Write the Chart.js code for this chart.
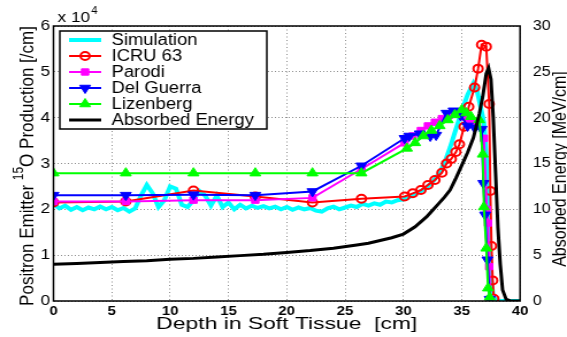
<!DOCTYPE html>
<html lang="en">
<head>
<meta charset="UTF-8">
<title>Positron emitter production vs depth</title>
<script src="https://cdn.jsdelivr.net/npm/chart.js"></script>
<style>
  html, body { margin: 0; padding: 0; background: #fff; overflow: hidden; }
  #chart { display: block; }
</style>
</head>
<body>
<!-- drawn narrow, shown stretched like the original figure -->
<canvas id="chart" width="493" height="337" style="width:567px;height:337px"></canvas>
<script>
// production values are in units of 10^4 /cm, energy in MeV/cm
const simDepth = [0,0.5,1,1.5,2,2.5,3,3.5,4,4.5,5,5.5,6,6.5,7,7.5,8,8.5,9,9.5,10,10.5,11,11.5,12,12.5,13,13.5,14,14.5,15,15.5,16,16.5,17,17.5,18,18.5,19,19.5,20,20.5,21,21.5,22,22.5,23,23.5,24,24.5,25,25.5,26,26.5,27,27.5,28,28.5,29,29.5,30,30.5,31,31.5,32,32.5,33,33.5,34,34.5,35,35.5,36,36.3,36.6,36.9,37.1,37.3,37.5,37.7,37.9,38.2,39,40];
const simProd = [2.12,2.02,2.08,1.99,2.05,1.98,2.04,2.0,2.06,2.0,2.05,1.98,2.03,1.95,2.02,2.3,2.53,2.35,2.05,2.2,2.5,2.45,2.1,2.05,2.2,2.4,2.3,2.08,2.3,2.05,2.15,2.0,2.1,2.02,2.08,2.03,2.07,2.02,2.06,2.0,2.05,1.99,2.04,2.0,2.03,1.97,1.95,2.02,2.06,2.0,2.04,2.08,2.05,2.12,2.08,2.13,2.1,2.17,2.15,2.2,2.22,2.27,2.33,2.4,2.48,2.6,2.76,3.0,3.35,3.75,4.15,4.5,4.75,4.6,4.25,3.9,3.2,1.8,0.5,0.1,0.03,0,0,0];

const icruDepth = [0,6.2,12,17.3,22.2,26.4,30.1,30.8,31.5,32.1,32.7,33.3,33.7,34.1,34.5,34.8,35.2,35.6,36.1,36.4,36.7,37.1,37.35,37.45,37.55,37.65,37.75];
const icruProd = [2.15,2.17,2.41,2.28,2.15,2.23,2.28,2.35,2.42,2.53,2.64,2.8,3.0,3.1,3.25,3.42,3.8,4.24,4.66,5.07,5.59,5.55,4.3,2.4,1.2,0.45,0.05];

const parodiDepth = [0,6.2,12,17.3,22.2,26.4,30.1,30.8,31.5,32.1,32.7,33.3,33.9,34.5,35.1,35.7,36.3,36.9,37.15,37.25,37.35,37.45];
const parodiProd = [2.17,2.17,2.2,2.2,2.25,2.88,3.45,3.6,3.72,3.82,3.9,3.98,4.05,4.08,4.02,3.95,3.88,3.55,2.0,1.7,0.75,0.05];

const guerraDepth = [0,6.2,12,17.3,22.2,26.4,30.1,30.5,31.4,32.3,32.8,33.7,34.3,34.9,35.5,36.1,36.7,36.85,37.0,37.2,37.4];
const guerraProd = [2.31,2.31,2.32,2.31,2.39,2.95,3.55,3.6,3.65,3.6,3.62,4.1,4.15,4.05,3.82,3.78,3.75,2.57,1.88,0.9,0.04];

const lizDepth = [0,6.2,12,17.3,22.2,26.4,30.3,31.0,31.7,32.4,33.1,33.8,34.4,35.0,35.4,35.8,36.5,36.8,36.9,37.1,37.25,37.4];
const lizProd = [2.79,2.79,2.79,2.79,2.79,2.79,3.33,3.45,3.6,3.72,3.82,3.95,4.06,4.17,4.1,4.02,3.95,3.2,2.05,1.15,0.28,0.08];

const energyDepth = [0,2,4,6,8,10,12,14,16,18,20,22,24,26,27,28,29,30,31,32,32.5,33,33.5,34,34.5,35,35.5,36,36.5,36.8,37.1,37.3,37.5,37.7,37.9,38.1,38.3,38.5,38.8,39.2,40];
const energy = [4.0,4.1,4.2,4.3,4.4,4.55,4.65,4.8,4.95,5.1,5.3,5.5,5.75,6.1,6.3,6.6,6.9,7.3,8.1,9.2,9.9,10.6,11.3,12.1,13.4,14.8,16.2,17.8,20.4,22.3,24.8,25.4,24.2,20,14,8,4,1.2,0.2,0,0];

const FONT = '"Liberation Sans", Arial, Helvetica, sans-serif';
const toPoints = (xs, ys) => xs.map((x, i) => ({ x: x, y: ys[i] }));

function drawMarker(ctx, ds, x, y) {
    if (!ds.pointRadius) return;
    ctx.fillStyle = ds.pointBackgroundColor;
    ctx.strokeStyle = ds.pointBorderColor;
    ctx.lineWidth = ds.pointBorderWidth;
    Chart.helpers.drawPoint(ctx, {
        pointStyle: ds.pointStyle, radius: ds.pointRadius,
        rotation: ds.pointRotation || 0, borderWidth: ds.pointBorderWidth
    }, x, y);
}

const decorations = {
    id: 'decorations',
    afterDraw(chart) {
        const { ctx, chartArea: a } = chart;
        ctx.save();

        // axes box
        ctx.strokeStyle = '#000';
        ctx.lineWidth = 1.5;
        ctx.setLineDash([]);
        ctx.strokeRect(a.left, a.top, a.right - a.left, a.bottom - a.top);

        // x 10^4 multiplier
        ctx.fillStyle = '#000';
        ctx.textBaseline = 'alphabetic';
        ctx.textAlign = 'left';
        ctx.font = '15px ' + FONT;
        ctx.fillText('x 10', 50, 22);
        const w10 = ctx.measureText('x 10').width;
        ctx.font = '10px ' + FONT;
        ctx.fillText('4', 50 + w10 + 1, 14);

        // legend
        const lx = 52, ly = 31, lw = 180, lh = 98;
        ctx.fillStyle = '#fff';
        ctx.fillRect(lx, ly, lw, lh);
        ctx.strokeStyle = '#000';
        ctx.lineWidth = 1.5;
        ctx.strokeRect(lx, ly, lw, lh);
        chart.data.datasets.forEach((ds, i) => {
            const y = ly + 9 + i * 16;
            ctx.strokeStyle = ds.borderColor;
            ctx.lineWidth = Math.min(ds.borderWidth, 4);
            ctx.beginPath();
            ctx.moveTo(60, y);
            ctx.lineTo(88, y);
            ctx.stroke();
            drawMarker(ctx, ds, 74, y);
            ctx.fillStyle = '#000';
            ctx.font = '16px ' + FONT;
            ctx.textBaseline = 'middle';
            ctx.fillText(ds.label, 97, y + 1);
        });

        // x axis title, a little wider than the font
        ctx.save();
        ctx.translate((a.left + a.right) / 2, 329);
        ctx.scale(1.17, 1);
        ctx.textAlign = 'center';
        ctx.textBaseline = 'alphabetic';
        ctx.font = '17px ' + FONT;
        ctx.fillText('Depth in Soft Tissue  [cm]', 0, 0);
        ctx.restore();

        // left axis title, with superscript mass number
        ctx.save();
        ctx.translate(24, 166);
        ctx.rotate(-Math.PI / 2);
        ctx.textAlign = 'left';
        ctx.textBaseline = 'middle';
        const p1 = 'Positron Emitter ', p2 = '15', p3 = 'O Production [/cm]';
        ctx.font = '17px ' + FONT;
        const w1 = ctx.measureText(p1).width, w3 = ctx.measureText(p3).width;
        ctx.font = '12px ' + FONT;
        const w2 = ctx.measureText(p2).width;
        let sx = -(w1 + w2 + w3) / 2;
        ctx.font = '17px ' + FONT;
        ctx.fillText(p1, sx, 0);
        ctx.font = '12px ' + FONT;
        ctx.fillText(p2, sx + w1, -7);
        ctx.font = '17px ' + FONT;
        ctx.fillText(p3, sx + w1 + w2, 0);
        ctx.restore();

        // right axis title, reads upward like the left one
        ctx.save();
        ctx.translate(488, 169);
        ctx.rotate(-Math.PI / 2);
        ctx.textAlign = 'center';
        ctx.textBaseline = 'middle';
        ctx.font = '16px ' + FONT;
        ctx.fillText('Absorbed Energy [MeV/cm]', 0, 0);
        ctx.restore();

        ctx.restore();
    }
};

const chart = new Chart(document.getElementById('chart'), {
    type: 'line',
    data: {
        datasets: [
            {
                label: 'Simulation', data: toPoints(simDepth, simProd), yAxisID: 'y',
                borderColor: '#00ffff', borderWidth: 4, pointRadius: 0, order: 6
            },
            {
                label: 'ICRU 63', data: toPoints(icruDepth, icruProd), yAxisID: 'y',
                borderColor: '#ff0000', borderWidth: 2, order: 5,
                pointStyle: 'circle', pointRadius: 4, pointBorderWidth: 2,
                pointBorderColor: '#ff0000', pointBackgroundColor: 'rgba(255,255,255,0)'
            },
            {
                label: 'Parodi', data: toPoints(parodiDepth, parodiProd), yAxisID: 'y',
                borderColor: '#ff00ff', borderWidth: 2, order: 4,
                pointStyle: 'rect', pointRadius: 4.5, pointBorderWidth: 1,
                pointBorderColor: '#ff00ff', pointBackgroundColor: '#ff00ff'
            },
            {
                label: 'Del Guerra', data: toPoints(guerraDepth, guerraProd), yAxisID: 'y',
                borderColor: '#0000ff', borderWidth: 2, order: 3,
                pointStyle: 'triangle', pointRotation: 180, pointRadius: 5.5, pointBorderWidth: 1,
                pointBorderColor: '#0000ff', pointBackgroundColor: '#0000ff'
            },
            {
                label: 'Lizenberg', data: toPoints(lizDepth, lizProd), yAxisID: 'y',
                borderColor: '#00ff00', borderWidth: 2, order: 2,
                pointStyle: 'triangle', pointRadius: 5.5, pointBorderWidth: 1,
                pointBorderColor: '#00ff00', pointBackgroundColor: '#00ff00'
            },
            {
                label: 'Absorbed Energy', data: toPoints(energyDepth, energy), yAxisID: 'y2',
                borderColor: '#000000', borderWidth: 3, pointRadius: 0, order: 1
            }
        ]
    },
    options: {
        responsive: false,
        animation: false,
        devicePixelRatio: 1,
        layout: { padding: { top: 26, left: 0, right: 0, bottom: 0 } },
        elements: { line: { tension: 0 } },
        plugins: { legend: { display: false }, tooltip: { enabled: false } },
        scales: {
            x: {
                type: 'linear', min: 0, max: 40,
                ticks: { stepSize: 5, autoSkip: false, maxRotation: 0, padding: 3, color: '#000',
                         font: { family: FONT, size: 13, weight: 'bold' } },
                grid: { color: '#8c8c8c', lineWidth: 1, drawTicks: false },
                border: { display: false, dash: [1, 2.5] },
                afterFit(s) { s.height = 36; }
            },
            y: {
                position: 'left', min: 0, max: 6,
                ticks: { stepSize: 1, padding: 3, color: '#000', font: { family: FONT, size: 15 } },
                grid: { color: '#8c8c8c', lineWidth: 1, drawTicks: false },
                border: { display: false, dash: [1, 2] },
                afterFit(s) { s.width = 46.5; }
            },
            y2: {
                position: 'right', min: 0, max: 30,
                ticks: { stepSize: 5, padding: 3, color: '#000', font: { family: FONT, size: 14 } },
                grid: { display: false },
                border: { display: false },
                afterFit(s) { s.width = 40.8; }
            }
        }
    },
    plugins: [decorations]
});
</script>
</body>
</html>
